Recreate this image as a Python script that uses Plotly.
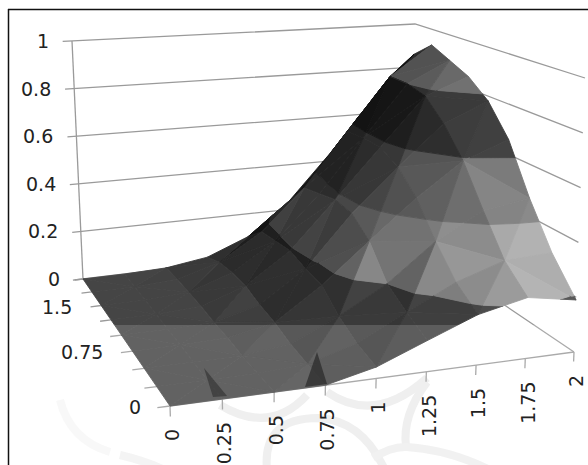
import numpy as np
import plotly.graph_objects as go

x_vals = [0, 0.25, 0.5, 0.75, 1, 1.25, 1.5, 1.75, 2]
y_vals = [0, 0.25, 0.5, 0.75, 1, 1.25, 1.5, 1.75, 2]
z_ticks = [0, 0.2, 0.4, 0.6, 0.8, 1]
x_labels = ["0", "0.25", "0.5", "0.75", "1", "1.25", "1.5", "1.75", "2"]
y_labels = ["0", "", "", "0.75", "", "", "1.5", "", ""]
z_labels = ["0", "0.2", "0.4", "0.6", "0.8", "1"]
# surface heights: rows follow y_vals, columns follow x_vals
z_y000 = [0, 0, 0, 0, .04, .11, .18, .22, .19]
z_y025 = [0, 0, 0, .01, .06, .15, .24, .30, .31]
z_y050 = [0, 0, 0, .02, .10, .20, .34, .44, .47]
z_y075 = [0, 0, .005, .04, .16, .31, .46, .59, .66]
z_y100 = [0, 0, .005, .05, .17, .37, .54, .70, .78]
z_y125 = [0, 0, .01, .07, .19, .38, .58, .78, .85]
z_y150 = [0, 0, .01, .07, .18, .36, .58, .80, .89]
z_y175 = [0, 0, .01, .06, .17, .34, .57, .80, .93]
z_y200 = [0, 0, .005, .03, .10, .24, .44, .67, .86]
Z = np.array([z_y000, z_y025, z_y050, z_y075, z_y100, z_y125, z_y150, z_y175, z_y200])

W, H = 588, 465
# oblique view of the plot box: screen positions of its eight corners
FLOOR = [(170, 406), (574, 352), (408, 240), (83, 279)]
ROOF = [(160, 106), (585, 78), (415, 24), (72, 41)]
band_edges = [0, .2, .4, .6, .8, 1.01]
band_base = [60, 122, 95, 52, 100]
LIGHT = np.array([0.45, -0.6, 0.66])
LIGHT = LIGHT / np.linalg.norm(LIGHT)
GRID = "#9a9a9a"

def homography(quad):
    src = [(0, 0), (1, 0), (1, 1), (0, 1)]
    A, b = [], []
    for (u, v), (px, py) in zip(src, quad):
        A.append([u, v, 1, 0, 0, 0, -u*px, -v*px]); b.append(px)
        A.append([0, 0, 0, u, v, 1, -u*py, -v*py]); b.append(py)
    return np.append(np.linalg.solve(np.array(A, float), np.array(b, float)), 1).reshape(3, 3)

HF, HR = homography(FLOOR), homography(ROOF)

def proj(x, y, z):
    q = np.array([x/2, y/2, 1.0])
    a, b = HF @ q, HR @ q
    a, b = a[:2]/a[2], b[:2]/b[2]
    return (1-z)*a + z*b

def clip(poly, lo, hi):
    def cl(poly, keep, val):
        out = []
        for i in range(len(poly)):
            a, b = poly[i], poly[(i+1) % len(poly)]
            ka, kb = keep(a[2]), keep(b[2])
            if ka:
                out.append(a)
            if ka != kb:
                out.append(a+(val-a[2])/(b[2]-a[2])*(b-a))
        return out
    poly = cl(poly, lambda z: z >= lo, lo)
    return cl(poly, lambda z: z <= hi, hi) if poly else poly

fig = go.Figure()

def polyline(points, color=GRID, width=1.3):
    s = np.array([proj(*p) for p in points])
    fig.add_trace(go.Scatter(x=s[:, 0], y=s[:, 1], mode="lines", line=dict(color=color, width=width),
                             hoverinfo="skip", showlegend=False))

x0, x1, y0, y1 = x_vals[0], x_vals[-1], y_vals[0], y_vals[-1]
for z in z_ticks:
    polyline([(x0-.05, y1, z), (x1, y1, z), (x1, y0, z)])
polyline([(x0, y1, 0), (x0, y1, 1)])
polyline([(x0, y0, 0), (x1, y0, 0)])
for y in y_vals:
    polyline([(x0-.06, y, 0), (x0, y, 0)])
for x in x_vals:
    polyline([(x, y0, 0), (x, y0, -.035)])

def facet(a, b, c):
    n = np.cross((b-a)*[1, 1, 1.2], (c-a)*[1, 1, 1.2])
    n = n/np.linalg.norm(n)
    if n[2] < 0:
        n = -n
    d = n @ LIGHT
    s = 0.45+(d-0.15)*1.4
    for bi in range(5):
        poly = clip([a, b, c], band_edges[bi], band_edges[bi+1])
        if len(poly) < 3:
            continue
        g = int(np.clip(band_base[bi]*s, 18, 215))
        col = f"rgb({g},{g},{g})"
        scr = np.array([proj(*q) for q in poly]+[proj(*poly[0])])
        fig.add_trace(go.Scatter(x=scr[:, 0], y=scr[:, 1], mode="lines", fill="toself", fillcolor=col,
                                 line=dict(color=col, width=0.9), hoverinfo="skip", showlegend=False))

for j in range(7, -1, -1):
    for i in range(7, -1, -1):
        P = [np.array([x_vals[i+a], y_vals[j+b], Z[j+b, i+a]], float) for a, b in ((0, 0), (1, 0), (1, 1), (0, 1))]
        if (i+j) % 2 == 0:
            facet(P[0], P[1], P[2]); facet(P[0], P[2], P[3])
        else:
            facet(P[1], P[2], P[3]); facet(P[0], P[1], P[3])

font = dict(family="DejaVu Sans", size=19, color="#222222")
ann = []
for v, t in zip(z_ticks, z_labels):
    sx, sy = proj(x0, y1, v)
    ann.append(dict(x=sx, y=sy, text=t, showarrow=False, xanchor="right", xshift=-21, font=font))
for v, t in zip(y_vals, y_labels):
    if t:
        sx, sy = proj(x0, v, 0)
        ann.append(dict(x=sx, y=sy, text=t, showarrow=False, xanchor="right", xshift=-27, yshift=-1, font=font))
for v, t in zip(x_vals, x_labels):
    sx, sy = proj(v, y0, 0)
    ann.append(dict(x=sx, y=sy, text=t, showarrow=False, textangle=-90, yanchor="top", xshift=2, yshift=-21, font=font))

def wm(path, color):
    return dict(type="path", path=path, xref="x", yref="y", layer="below", line=dict(color=color, width=8))
shapes = [wm("M 220 405 Q 270 435 307 395", "#ececec"), wm("M 327 392 Q 375 425 427 378", "#ececec"),
          wm("M 267 470 Q 262 418 318 418 Q 362 420 385 470", "#ececec"),
          wm("M 427 382 Q 402 415 406 447", "#ececec"), wm("M 373 458 Q 392 446 407 447 Q 450 450 490 470", "#efefef"),
          wm("M 120 455 Q 150 462 175 475", "#f2f2f2"), wm("M 60 400 Q 70 440 110 452", "#f7f7f7")]
shapes += [
    dict(type="rect", xref="x", yref="y", x0=9, x1=W, y0=325, y1=H, layer="above",
         fillcolor="rgba(255,255,255,0.16)", line=dict(width=0)),
    dict(type="path", path="M 204 368 L 213 397 L 227 396 Z", xref="x", yref="y", layer="above",
         fillcolor="rgba(35,35,35,0.5)", line=dict(width=0)),
    dict(type="path", path="M 317 352 L 305 387 L 327 384 Z", xref="x", yref="y", layer="above",
         fillcolor="rgba(35,35,35,0.65)", line=dict(width=0)),
    dict(type="line", xref="x", yref="y", x0=8.5, x1=8.5, y0=9, y1=H, line=dict(color="#111111", width=1.5)),
    dict(type="line", xref="x", yref="y", x0=8, x1=W, y0=9.5, y1=9.5, line=dict(color="#111111", width=1.5)),
]
fig.update_layout(width=W, height=H, margin=dict(l=0, r=0, t=0, b=0), paper_bgcolor="white", plot_bgcolor="white",
                  showlegend=False, hovermode=False,
                  xaxis=dict(visible=False, range=[0, W], fixedrange=True),
                  yaxis=dict(visible=False, range=[H, 0], fixedrange=True),
                  annotations=ann, shapes=shapes)
fig.write_html("out.html", config=dict(displayModeBar=False),
               post_script="document.body.style.margin='0';document.body.style.overflow='hidden';")
